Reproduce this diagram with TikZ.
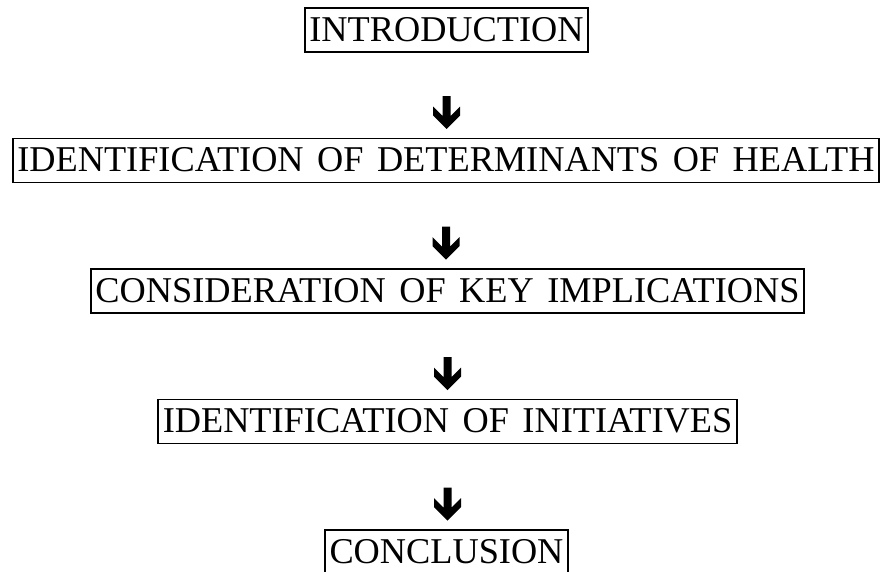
\documentclass[tikz,border=0pt]{standalone}
\usepackage{fontspec}
\setmainfont{Liberation Serif}
\newcommand\myboxfont{\fontsize{36.3}{40}\selectfont\spaceskip=13.5pt\relax}
\begin{document}
\begin{tikzpicture}[x=1pt,y=1pt,
  stagebox/.style={draw, line width=1.6pt, inner xsep=4.5pt, inner ysep=0pt,
    outer sep=0pt, text height=33pt, text depth=11pt, anchor=north,
    font=\myboxfont},
  dnarrow/.pic={\fill (-4,0) -- (4,0) -- (4,-20) -- (13.5,-10.5) -- (13.5,-19.5)
    -- (0,-33) -- (-13.5,-19.5) -- (-13.5,-10.5) -- (-4,-20) -- cycle;}]
\useasboundingbox (0,0) rectangle (884,-571);
\node[stagebox] (intro) at (446.5,-8) {INTRODUCTION};
\node[stagebox] (ident) at (446,-138.5) {IDENTIFICATION OF DETERMINANTS OF HEALTH};
\node[stagebox] (consid) at (447.5,-269) {CONSIDERATION OF KEY IMPLICATIONS};
\node[stagebox] (init) at (447.5,-399.5) {IDENTIFICATION OF INITIATIVES};
\node[stagebox] (concl) at (446.5,-530) {CONCLUSION};
\pic at ([yshift=-44pt]intro.south) {dnarrow};
\pic at ([yshift=-44pt]ident.south) {dnarrow};
\pic at ([yshift=-44pt]consid.south) {dnarrow};
\pic at ([yshift=-44pt]init.south) {dnarrow};
\end{tikzpicture}
\end{document}
